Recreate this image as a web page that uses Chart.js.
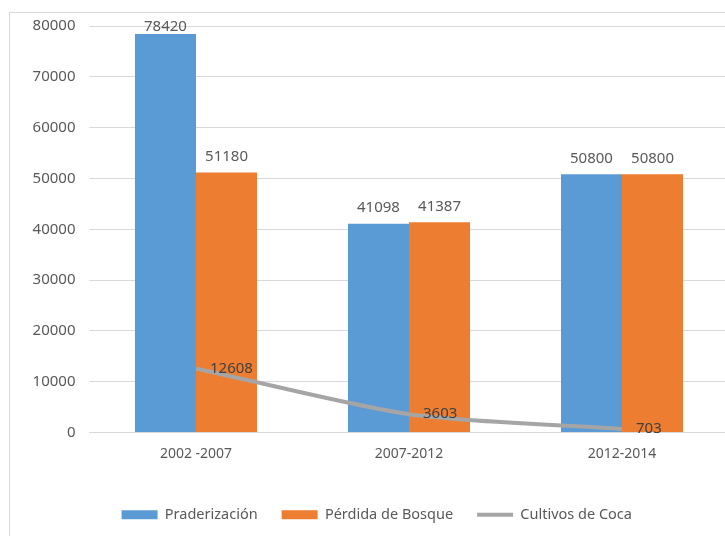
<!DOCTYPE html>
<html>
<head>
<meta charset="utf-8">
<script src="https://cdn.jsdelivr.net/npm/chart.js@4/dist/chart.umd.min.js"></script>
<style>
  html, body { margin: 0; padding: 0; background: #fff; overflow: hidden; }
  #marco { position: absolute; left: 9px; top: 12px; width: 760px; height: 560px; border: 1px solid #d9d9d9; box-sizing: border-box; }
  #caja { position: absolute; left: 0; top: 0; width: 740px; height: 536px; }
</style>
</head>
<body>
<div id="marco"></div>
<div id="caja"><canvas id="grafico"></canvas></div>
<script>
const periodos = ['2002 -2007', '2007-2012', '2012-2014']
const praderizacion = [78420, 41098, 50800]
const perdidaBosque = [51180, 41387, 50800]
const cultivosCoca = [12608, 3603, 703]

const gris = '#595959'
const fuente = "'Noto Sans', sans-serif"

// etiquetas de valor: encima de las barras y a la derecha de la linea
const etiquetas = {
  id: 'etiquetas',
  afterDatasetsDraw(chart) {
    const ctx = chart.ctx
    const area = chart.chartArea
    ctx.save()
    ctx.font = '15px ' + fuente
    chart.data.datasets.forEach((ds, i) => {
      const meta = chart.getDatasetMeta(i)
      meta.data.forEach((el, j) => {
        const valor = String(ds.data[j])
        if (ds.type === 'line') {
          ctx.fillStyle = '#404040'
          ctx.textAlign = 'left'
          ctx.textBaseline = 'middle'
          ctx.fillText(valor, el.x + 14, el.y)
        } else {
          ctx.fillStyle = gris
          ctx.textAlign = 'center'
          ctx.textBaseline = 'bottom'
          ctx.fillText(valor, el.x, Math.max(el.y - 8, area.top + 8))
        }
      })
    })
    ctx.restore()
  }
}

new Chart(document.getElementById('grafico'), {
  data: {
    labels: periodos,
    datasets: [
      {
        type: 'bar',
        label: 'Praderización',
        data: praderizacion,
        backgroundColor: '#5b9bd5',
        order: 2
      },
      {
        type: 'bar',
        label: 'Pérdida de Bosque',
        data: perdidaBosque,
        backgroundColor: '#ed7d31',
        order: 3
      },
      {
        type: 'line',
        label: 'Cultivos de Coca',
        data: cultivosCoca,
        borderColor: '#a5a5a5',
        backgroundColor: '#a5a5a5',
        borderWidth: 4,
        pointRadius: 0,
        pointStyle: 'line',
        tension: 0.25,
        order: 1
      }
    ]
  },
  options: {
    responsive: true,
    maintainAspectRatio: false,
    animation: false,
    layout: { padding: { top: 26, right: 11.5, left: 25, bottom: 4 } },
    datasets: {
      bar: { categoryPercentage: 0.573, barPercentage: 1.0, pointStyle: 'rect' }
    },
    plugins: {
      tooltip: { enabled: false },
      legend: {
        position: 'bottom',
        align: 'center',
        labels: {
          sort: (a, b) => a.datasetIndex - b.datasetIndex,
          usePointStyle: true,
          pointStyleWidth: 36,
          boxHeight: 9,
          padding: 24,
          color: gris,
          font: { family: fuente, size: 14.5 }
        }
      }
    },
    scales: {
      x: {
        grid: { display: false, tickLength: 0 },
        border: { color: '#d9d9d9' },
        ticks: { color: gris, padding: 13, font: { family: fuente, size: 14 } },
        afterFit(scale) { scale.height = 51 }
      },
      y: {
        min: 0,
        max: 80000,
        ticks: { stepSize: 10000, color: gris, padding: 14, font: { family: fuente, size: 15 }, callback: v => v },
        grid: { color: '#d9d9d9', tickLength: 0 },
        border: { display: false },
        afterFit(scale) { scale.width = 64.5 }
      }
    }
  },
  plugins: [etiquetas]
})
</script>
</body>
</html>
